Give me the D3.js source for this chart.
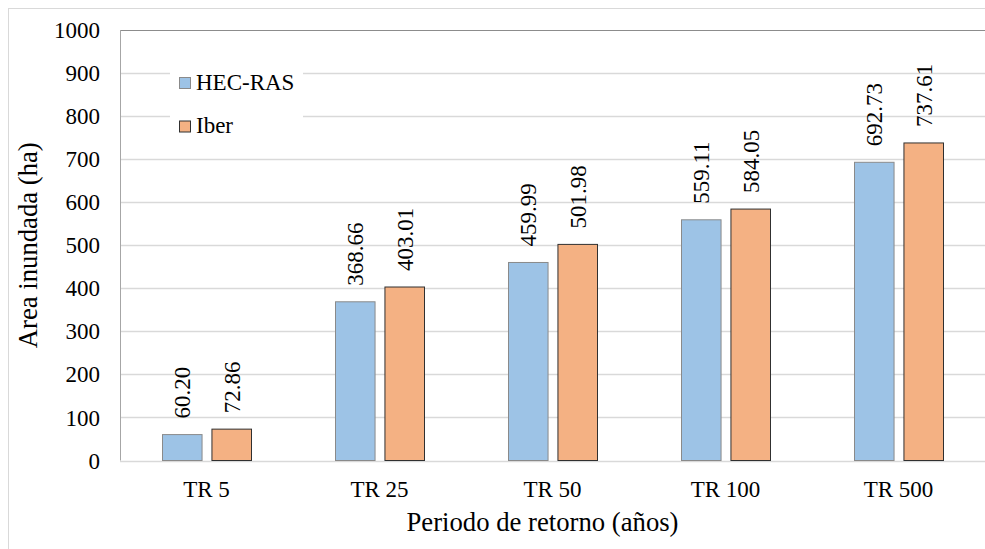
<!DOCTYPE html>
<html>
<head>
<meta charset="utf-8">
<script src="https://cdn.jsdelivr.net/npm/d3@7"></script>
<style>
  body { margin: 0; background: #fff; }
</style>
</head>
<body>
<div id="chart"></div>
<script>
const categories = ["TR 5", "TR 25", "TR 50", "TR 100", "TR 500"];
const seriesNames = ["HEC-RAS", "Iber"];
const hecras = [60.20, 368.66, 459.99, 559.11, 692.73];
const iber = [72.86, 403.01, 501.98, 584.05, 737.61];
const yTicks = [0, 100, 200, 300, 400, 500, 600, 700, 800, 900, 1000];

const W = 985, H = 549;
const margin = { top: 30, right: 0, bottom: 88.5, left: 120 };
const colors = { "HEC-RAS": "#9dc3e6", "Iber": "#f4b183" };
const strokes = { "HEC-RAS": "#8a8a8a", "Iber": "#303030" };
const FONT = "'Liberation Serif', 'Times New Roman', Times, serif";
const small = 23, big = 26.7;
// text is drawn at BASE px and scaled down, so the serif face is kept at small sizes
const BASE = 30;

const svg = d3.select("#chart").append("svg").attr("width", W).attr("height", H);

function serif(sel, size, pos, rot) {
  return sel
    .attr("font-family", FONT)
    .attr("font-size", BASE)
    .attr("fill", "#000")
    .attr("transform", (d, i) => {
      const p = pos(d, i);
      return `translate(${p[0]},${p[1]}) rotate(${rot || 0}) scale(${size / BASE})`;
    });
}

// outer chart frame
svg.append("rect")
  .attr("x", 8.5).attr("y", 8.5).attr("width", W + 10).attr("height", H + 10)
  .attr("fill", "none").attr("stroke", "#d9d9d9");

const x = d3.scaleBand().domain(categories).range([margin.left, W - margin.right]);
const groupW = 89;
const x1 = d3.scaleBand().domain(seriesNames)
  .range([(x.bandwidth() - groupW) / 2, (x.bandwidth() + groupW) / 2])
  .paddingInner(0.2);
const y = d3.scaleLinear().domain([0, 1000]).range([H - margin.bottom, margin.top]);

// gridlines
svg.append("g")
  .selectAll("line")
  .data(yTicks)
  .join("line")
  .attr("x1", margin.left).attr("x2", W)
  .attr("y1", (d) => Math.round(y(d)) + 0.5).attr("y2", (d) => Math.round(y(d)) + 0.5)
  .attr("stroke", (d) => (d === 1000 ? "#8c8c8c" : "#d9d9d9"))
  .attr("stroke-width", (d) => (d === 1000 ? 1 : 1.5));

// left axis line
svg.append("line")
  .attr("x1", margin.left + 0.5).attr("x2", margin.left + 0.5)
  .attr("y1", y(1000)).attr("y2", y(0))
  .attr("stroke", "#a6a6a6");

// y tick labels
serif(svg.append("g")
  .selectAll("text")
  .data(yTicks)
  .join("text")
  .attr("dy", "0.35em")
  .attr("text-anchor", "end"), small, (d) => [100, y(d)])
  .text((d) => d);

// bars
const rows = categories.map((c, i) => ({ cat: c, vals: [hecras[i], iber[i]] }));

const groups = svg.append("g")
  .selectAll("g")
  .data(rows)
  .join("g")
  .attr("transform", (d) => `translate(${x(d.cat)},0)`);

groups.selectAll("rect")
  .data((d) => d.vals.map((v, j) => ({ name: seriesNames[j], value: v })))
  .join("rect")
  .attr("x", (d) => x1(d.name) + 0.5)
  .attr("y", (d) => y(d.value))
  .attr("width", x1.bandwidth())
  .attr("height", (d) => y(0) - y(d.value))
  .attr("fill", (d) => colors[d.name])
  .attr("stroke", (d) => strokes[d.name])
  .attr("stroke-width", 1);

// value labels
serif(groups.selectAll("text")
  .data((d) => d.vals.map((v, j) => ({ name: seriesNames[j], value: v })))
  .join("text")
  .attr("dy", "0.35em")
  .attr("text-anchor", "start"), small,
  (d) => [x1(d.name) + x1.bandwidth() / 2 + 0.5, y(d.value) - 16], -90)
  .text((d) => d3.format(".2f")(d.value));

// x tick labels
serif(svg.append("g")
  .selectAll("text")
  .data(categories)
  .join("text")
  .attr("text-anchor", "middle"), small, (d) => [x(d) + x.bandwidth() / 2, 497])
  .text((d) => d);

// axis titles
serif(svg.append("text")
  .attr("text-anchor", "middle"), big, () => [(margin.left + W) / 2 - 10, 531])
  .text("Periodo de retorno (años)");

serif(svg.append("text")
  .attr("text-anchor", "middle"), big, () => [37, (y(0) + y(1000)) / 2], -90)
  .text("Area inundada (ha)");

// legend
const legend = svg.append("g").attr("transform", "translate(170,60)");
legend.append("rect").attr("width", 133).attr("height", 90).attr("fill", "#fff");
const items = legend.selectAll("g")
  .data(seriesNames)
  .join("g")
  .attr("transform", (d, i) => `translate(9,${17 + i * 43.5})`);
items.append("rect")
  .attr("x", 0.5).attr("y", 0.5)
  .attr("width", 11).attr("height", 11)
  .attr("fill", (d) => colors[d])
  .attr("stroke", (d) => strokes[d]);
serif(items.append("text"), small, () => [17, 12.5])
  .text((d) => d);
</script>
</body>
</html>
